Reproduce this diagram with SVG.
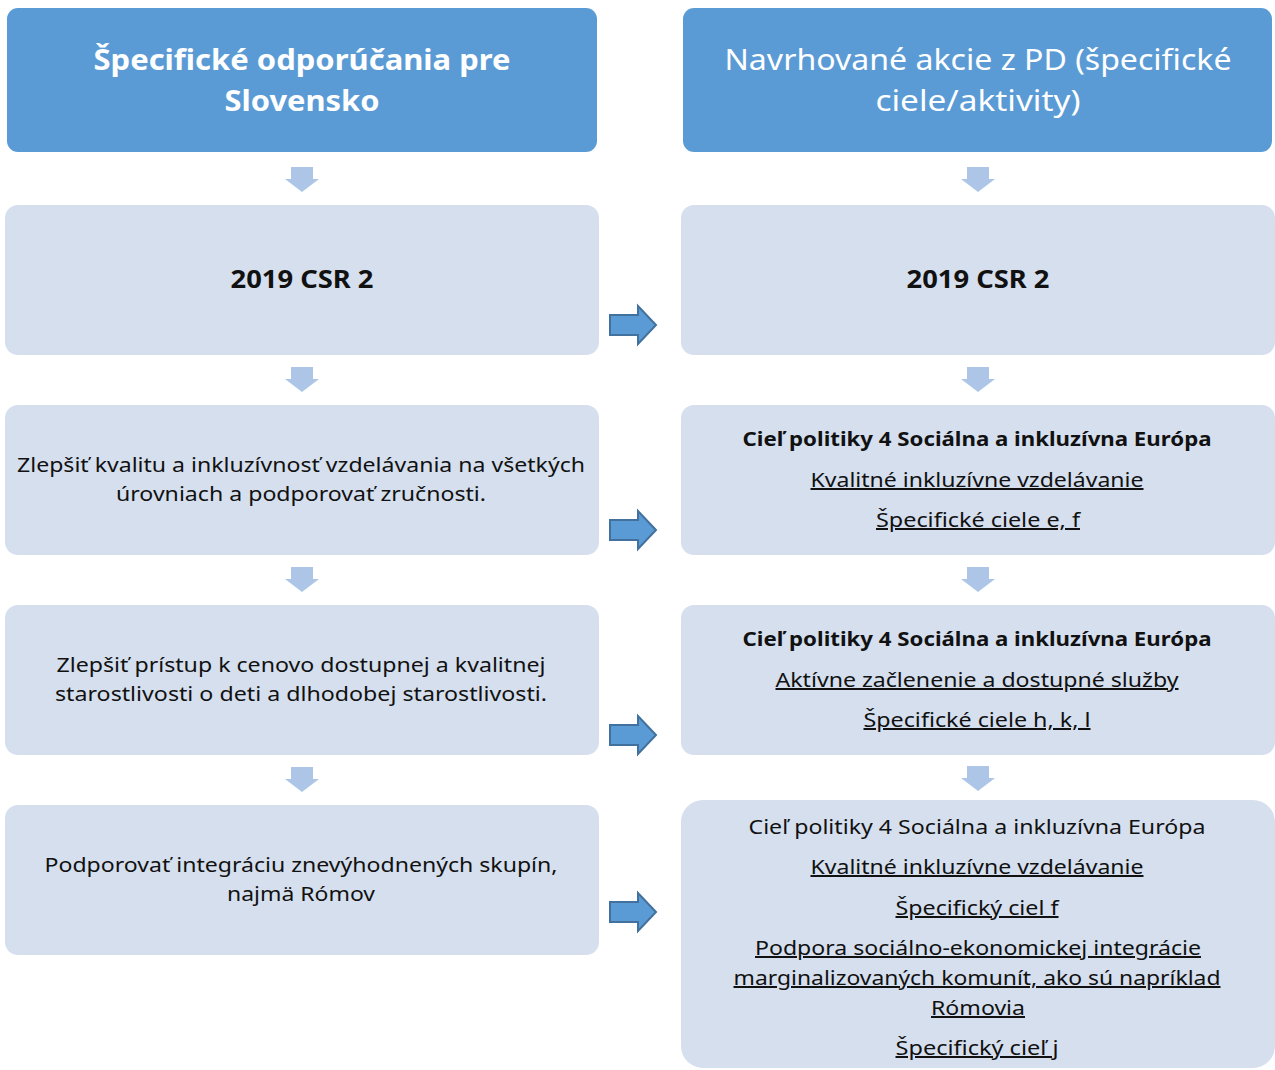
<svg xmlns="http://www.w3.org/2000/svg" width="1275" height="1070" viewBox="0 0 1275 1070">
<style>
.hdr{fill:#5B9BD5}
.box{fill:#D5DFEE}
.t{font-family:"Noto Sans","Open Sans","Liberation Sans",sans-serif;fill:#111;text-anchor:middle}
.h{font-family:"Noto Sans","Open Sans","Liberation Sans",sans-serif;fill:#fff;text-anchor:middle;font-size:29px}
.b{font-weight:bold}
.u{text-decoration:underline}
.dn{fill:#ADC6E8}
.rt{fill:#5B9BD5;stroke:#41719C;stroke-width:2;stroke-linejoin:miter}
</style>
<rect width="1275" height="1070" fill="#fff"/>
<g id="hdr-left">
<rect class="hdr" x="7" y="8" width="590" height="144" rx="11"/>
<text class="h b" x="302" y="70" textLength="417" lengthAdjust="spacingAndGlyphs">Špecifické odporúčania pre</text>
<text class="h b" x="302" y="111" textLength="155" lengthAdjust="spacingAndGlyphs">Slovensko</text>
</g>
<g id="hdr-right">
<rect class="hdr" x="683" y="8" width="589" height="144" rx="11"/>
<text class="h" x="978" y="70" textLength="507" lengthAdjust="spacingAndGlyphs">Navrhované akcie z PD (špecifické</text>
<text class="h" x="978" y="111" textLength="205" lengthAdjust="spacingAndGlyphs">ciele/aktivity)</text>
</g>
<g id="l1">
<rect class="box" x="5" y="205" width="594" height="150" rx="13"/>
<text class="t b" x="302" y="288" font-size="25" textLength="143" lengthAdjust="spacingAndGlyphs">2019 CSR 2</text>
</g>
<g id="r1">
<rect class="box" x="681" y="205" width="594" height="150" rx="13"/>
<text class="t b" x="978" y="288" font-size="25" textLength="143" lengthAdjust="spacingAndGlyphs">2019 CSR 2</text>
</g>
<g id="l2">
<rect class="box" x="5" y="405" width="594" height="150" rx="13"/>
<text class="t" x="301" y="472" font-size="20" textLength="568" lengthAdjust="spacingAndGlyphs">Zlepšiť kvalitu a inkluzívnosť vzdelávania na všetkých</text>
<text class="t" x="301" y="501" font-size="20" textLength="370" lengthAdjust="spacingAndGlyphs">úrovniach a podporovať zručnosti.</text>
</g>
<g id="r2">
<rect class="box" x="681" y="405" width="594" height="150" rx="13"/>
<text class="t b" x="977" y="446" font-size="20" textLength="469" lengthAdjust="spacingAndGlyphs">Cieľ politiky 4 Sociálna a inkluzívna Európa</text>
<text class="t u" x="977" y="487" font-size="20" textLength="333" lengthAdjust="spacingAndGlyphs">Kvalitné inkluzívne vzdelávanie</text>
<text class="t u" x="978" y="527" font-size="20" textLength="204" lengthAdjust="spacingAndGlyphs">Špecifické ciele e, f</text>
</g>
<g id="l3">
<rect class="box" x="5" y="605" width="594" height="150" rx="13"/>
<text class="t" x="301" y="672" font-size="20" textLength="489" lengthAdjust="spacingAndGlyphs">Zlepšiť prístup k cenovo dostupnej a kvalitnej</text>
<text class="t" x="301" y="701" font-size="20" textLength="492" lengthAdjust="spacingAndGlyphs">starostlivosti o deti a dlhodobej starostlivosti.</text>
</g>
<g id="r3">
<rect class="box" x="681" y="605" width="594" height="150" rx="13"/>
<text class="t b" x="977" y="646" font-size="20" textLength="469" lengthAdjust="spacingAndGlyphs">Cieľ politiky 4 Sociálna a inkluzívna Európa</text>
<text class="t u" x="977" y="687" font-size="20" textLength="403" lengthAdjust="spacingAndGlyphs">Aktívne začlenenie a dostupné služby</text>
<text class="t u" x="977" y="727" font-size="20" textLength="227" lengthAdjust="spacingAndGlyphs">Špecifické ciele h, k, l</text>
</g>
<g id="l4">
<rect class="box" x="5" y="805" width="594" height="150" rx="13"/>
<text class="t" x="301" y="872" font-size="20" textLength="513" lengthAdjust="spacingAndGlyphs">Podporovať integráciu znevýhodnených skupín,</text>
<text class="t" x="301" y="901" font-size="20" textLength="148" lengthAdjust="spacingAndGlyphs">najmä Rómov</text>
</g>
<g id="r4">
<rect class="box" x="681" y="800" width="594" height="268" rx="22"/>
<text class="t" x="977" y="834" font-size="20" textLength="457" lengthAdjust="spacingAndGlyphs">Cieľ politiky 4 Sociálna a inkluzívna Európa</text>
<text class="t u" x="977" y="874" font-size="20" textLength="333" lengthAdjust="spacingAndGlyphs">Kvalitné inkluzívne vzdelávanie</text>
<text class="t u" x="977" y="915" font-size="20" textLength="163" lengthAdjust="spacingAndGlyphs">Špecifický ciel f</text>
<text class="t u" x="978" y="955" font-size="20" textLength="446" lengthAdjust="spacingAndGlyphs">Podpora sociálno-ekonomickej integrácie</text>
<text class="t u" x="977" y="985" font-size="20" textLength="487" lengthAdjust="spacingAndGlyphs">marginalizovaných komunít, ako sú napríklad</text>
<text class="t u" x="978" y="1015" font-size="20" textLength="94" lengthAdjust="spacingAndGlyphs">Rómovia</text>
<text class="t u" x="977" y="1055" font-size="20" textLength="163" lengthAdjust="spacingAndGlyphs">Špecifický cieľ j</text>
</g>
<g id="connectors">
<defs>
<path id="dn" d="M-11,0 H11 V12 H17 L0,25 L-17,12 H-11 Z"/>
<path id="rt" d="M0,-10 H28 V-19 L46,0 L28,19 V10 H0 Z"/>
</defs>
<use href="#dn" class="dn" x="302" y="167"/>
<use href="#dn" class="dn" x="302" y="367"/>
<use href="#dn" class="dn" x="302" y="567"/>
<use href="#dn" class="dn" x="302" y="767"/>
<use href="#dn" class="dn" x="978" y="167"/>
<use href="#dn" class="dn" x="978" y="367"/>
<use href="#dn" class="dn" x="978" y="567"/>
<use href="#dn" class="dn" x="978" y="766"/>
<use href="#rt" class="rt" x="610" y="325"/>
<use href="#rt" class="rt" x="610" y="530"/>
<use href="#rt" class="rt" x="610" y="735"/>
<use href="#rt" class="rt" x="610" y="912"/>
</g>
</svg>
